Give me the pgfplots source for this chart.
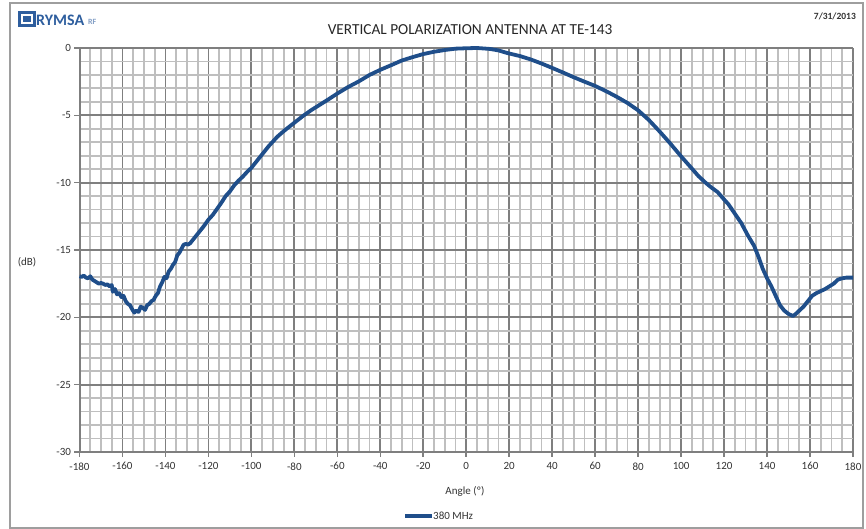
\documentclass[border=0pt]{standalone}
\usepackage{fontspec}
\setmainfont{Carlito}
\usepackage{pgfplots}
\pgfplotsset{compat=1.18}
\definecolor{curve}{HTML}{1F4E8A}
\definecolor{txt}{HTML}{333333}
\definecolor{logo}{HTML}{2E5E9E}
\definecolor{majg}{HTML}{7F7F7F}
\definecolor{ming}{HTML}{BFBFBF}
\begin{document}
\begin{tikzpicture}
\path[use as bounding box] (0pt,0pt) rectangle (866pt,529pt);
\draw[line width=2pt, draw=black!38] (10pt,1pt) rectangle (863pt,526pt);
% logo
\fill[logo] (18pt,502pt) rectangle (36pt,518pt);
\fill[white] (21pt,505pt) rectangle (33pt,515pt);
\fill[logo] (23pt,507pt) rectangle (31pt,513pt);
\node[anchor=west, text=logo, inner sep=0pt, font=\fontsize{16}{18}\selectfont\bfseries] at (36pt,509pt) {RYMSA};
\node[anchor=west, text=logo!60, inner sep=0pt, font=\fontsize{8}{9}\selectfont\bfseries] at (88pt,507pt) {RF};
\node[anchor=east, text=txt, inner sep=0pt, font=\fontsize{9.5}{11}\selectfont\bfseries] at (856pt,513pt) {7/31/2013};
\node[text=black!85, inner sep=0pt, font=\fontsize{15.3}{17}\selectfont] at (470pt,499pt) {VERTICAL POLARIZATION ANTENNA AT TE-143};
\node[text=txt, inner sep=0pt, font=\fontsize{11}{12}\selectfont] at (27pt,267pt) {(dB)};
\node[text=txt, inner sep=0pt, font=\fontsize{11}{12}\selectfont] at (465pt,38pt) {Angle (º)};
\draw[curve, line width=3.6pt] (405pt,13pt) -- (432pt,13pt);
\node[anchor=west, text=txt, inner sep=0pt, font=\fontsize{11}{12}\selectfont] at (433pt,13pt) {380 MHz};
\begin{axis}[
  at={(79.5pt,77pt)}, anchor=south west,
  scale only axis, width=773.5pt, height=404pt,
  xmin=-180, xmax=180, ymin=-30, ymax=0,
  xtick={-180,-160,...,180}, ytick={-30,-25,...,0},
  minor x tick num=3, minor y tick num=4,
  grid=both,
  major grid style={draw=majg, line width=1.8pt},
  minor grid style={draw=ming, line width=1.8pt},
  axis lines=left, axis line style={-, draw=majg, line width=2pt},
  tick align=outside, major tick length=5pt, minor tick length=0pt,
  major tick style={draw=majg, line width=1.6pt},
  tick label style={text=txt, font=\fontsize{11}{12}\selectfont},
  /pgf/number format/assume math mode=true,
  xticklabel style={yshift=-2pt},
  clip=false,
]
\addplot[curve, line width=3.8pt, line join=round] coordinates {
(-180,-16.95) (-179,-17.0) (-178,-16.9) (-177,-17.05) (-176,-17.1) (-175,-16.95)
(-174,-17.2) (-173,-17.3) (-172,-17.4) (-171,-17.5) (-170,-17.45) (-169,-17.5)
(-168,-17.6) (-167,-17.55) (-166,-17.7) (-165,-17.6) (-164.5,-18.1) (-163.5,-17.9)
(-162.5,-18.3) (-161.5,-18.2) (-160.5,-18.5) (-159.5,-18.4) (-158.5,-18.8) (-157.5,-19.0)
(-156.5,-19.1) (-155.5,-19.4) (-154.5,-19.65) (-153.5,-19.5) (-152.5,-19.6) (-151.5,-19.2)
(-150.5,-19.3) (-149.5,-19.45) (-148.5,-19.1) (-147.5,-19.0) (-146.5,-18.8) (-145.5,-18.7)
(-144.5,-18.4) (-143.5,-18.2) (-142.5,-17.7) (-141.5,-17.4) (-140.5,-17.0) (-139.5,-17.1)
(-138.5,-16.6) (-137.5,-16.4) (-136.5,-16.1) (-135.5,-15.9) (-134.5,-15.4) (-133.5,-15.2)
(-132.5,-14.9) (-131.5,-14.6) (-130.5,-14.55) (-129.5,-14.6) (-128.5,-14.5) (-127.5,-14.3)
(-126,-14.0) (-124,-13.6) (-122,-13.2) (-120,-12.75) (-118,-12.4) (-116,-11.95)
(-114,-11.5) (-112,-11.0) (-110,-10.65) (-108,-10.2) (-106,-9.85) (-104,-9.55)
(-102,-9.2) (-100,-8.9) (-98,-8.5) (-96,-8.1) (-94,-7.7) (-92,-7.3) (-90,-6.95)
(-88,-6.6) (-86,-6.32) (-84,-6.05) (-82,-5.8) (-80,-5.55) (-76,-5.05) (-72,-4.6)
(-68,-4.2) (-64,-3.8) (-60,-3.38) (-55,-2.9) (-50,-2.48) (-45,-2.0) (-40,-1.62)
(-35,-1.28) (-30,-0.93) (-25,-0.68) (-20,-0.45) (-15,-0.28) (-10,-0.15) (-5,-0.05)
(0,-0.02) (5,0.0) (11,-0.07) (15,-0.18) (19,-0.37) (25,-0.6) (30,-0.85) (35,-1.15)
(40,-1.48) (45,-1.82) (50,-2.17) (55,-2.5) (60,-2.82) (65,-3.2) (70,-3.62) (75,-4.08)
(80,-4.63) (85,-5.35) (90,-6.2) (95,-7.1) (100,-8.05) (105,-8.95) (108,-9.5) (111,-9.95)
(114,-10.35) (117,-10.7) (120,-11.25) (122,-11.6) (125,-12.3) (128,-13.0) (131,-13.9)
(134,-14.7) (136,-15.5) (138,-16.4) (140,-17.1) (142,-17.7) (144,-18.4) (146,-19.1)
(148,-19.5) (150,-19.75) (152,-19.9) (153,-19.8) (155,-19.5) (157,-19.2) (159,-18.8)
(161,-18.4) (163,-18.2) (165,-18.05) (167,-17.9) (169,-17.7) (171,-17.5) (173,-17.2)
(175,-17.1) (177,-17.05) (180,-17.05)
};
\end{axis}
\end{tikzpicture}
\end{document}
